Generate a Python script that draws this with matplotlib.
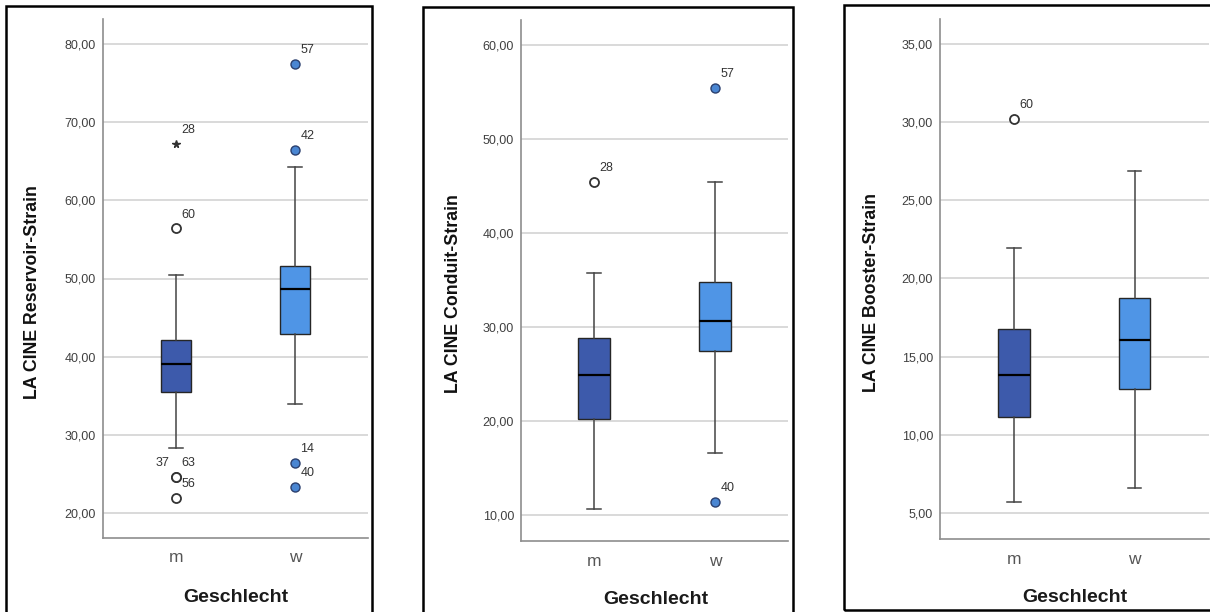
import matplotlib
matplotlib.use("Agg")
import matplotlib.pyplot as plt
from matplotlib.patches import Rectangle

# ---------------- data ----------------
categories = ["m", "w"]
x_title = "Geschlecht"

res_title = "LA CINE Reservoir-Strain"
res_ticks = [20, 30, 40, 50, 60, 70, 80]
res_whislo = [28.3, 33.9]
res_q1 = [35.5, 42.9]
res_med = [39.0, 48.7]
res_q3 = [42.1, 51.6]
res_whishi = [50.4, 64.3]
res_out_m = [56.4, 24.6, 24.6, 21.9]
res_out_m_ids = ["60", "37", "63", "56"]
res_ext_m = [67.2]
res_ext_m_ids = ["28"]
res_out_w = [77.4, 66.5, 26.4, 23.3]
res_out_w_ids = ["57", "42", "14", "40"]

con_title = "LA CINE Conduit-Strain"
con_ticks = [10, 20, 30, 40, 50, 60]
con_whislo = [10.6, 16.6]
con_q1 = [20.25, 27.45]
con_med = [24.9, 30.6]
con_q3 = [28.8, 34.8]
con_whishi = [35.8, 45.4]
con_out_m = [45.5]
con_out_m_ids = ["28"]
con_out_w = [55.5, 11.35]
con_out_w_ids = ["57", "40"]

boo_title = "LA CINE Booster-Strain"
boo_ticks = [5, 10, 15, 20, 25, 30, 35]
boo_whislo = [5.7, 6.6]
boo_q1 = [11.15, 12.9]
boo_med = [13.8, 16.05]
boo_q3 = [16.75, 18.75]
boo_whishi = [21.95, 26.9]
boo_out_m = [30.2]
boo_out_m_ids = ["60"]
boo_out_w = []
boo_out_w_ids = []

# ---------------- style ----------------
W, H = 1210, 612
C_M = "#3d5aab"
C_W = "#4f95e6"
C_WOUT = "#4a86d2"
EDGE = "#262626"
GRID = "#d3d3d3"
SPINE = "#8e8e8e"
TICKC = "#404040"

fig = plt.figure(figsize=(W / 100, H / 100), dpi=100)

def fx(px):
    return px / W

def fy(py):
    return 1 - py / H

def panel(frame, axbox, xlim, ylim, ticks, title, ylab_xy, xlab_xy,
          whislo, q1, med, q3, whishi, out_m, out_m_ids, out_w, out_w_ids,
          ext_m=(), ext_m_ids=()):
    fl, ft, fr, fb = frame
    fig.add_artist(Rectangle((fx(fl), fy(fb)), fx(fr) - fx(fl), fy(ft) - fy(fb),
                             transform=fig.transFigure, fill=False,
                             edgecolor="black", linewidth=1.8, zorder=0))
    l, t, r, b = axbox
    ax = fig.add_axes([fx(l), fy(b), fx(r) - fx(l), fy(t) - fy(b)])
    stats = []
    for i, c in enumerate(categories):
        stats.append(dict(label=c, whislo=whislo[i], q1=q1[i], med=med[i],
                          q3=q3[i], whishi=whishi[i], fliers=[]))
    bp = ax.bxp(stats, positions=[1, 2], widths=0.26, patch_artist=True,
                showfliers=False, capwidths=0.11,
                boxprops=dict(edgecolor=EDGE, linewidth=1.0),
                medianprops=dict(color="black", linewidth=1.6),
                whiskerprops=dict(color="#444444", linewidth=1.1),
                capprops=dict(color="#444444", linewidth=1.1))
    for patch, col in zip(bp["boxes"], [C_M, C_W]):
        patch.set_facecolor(col)
    for z in bp["boxes"] + bp["medians"] + bp["whiskers"] + bp["caps"]:
        z.set_zorder(3)

    def lab(xpos, val, txt, left=False):
        ax.annotate(txt, (xpos, val), xytext=(-9.5 if left else 9, 10),
                    textcoords="offset points", ha="center", va="center",
                    fontsize=9, color="#333333", family="Liberation Sans",
                    zorder=5)

    seen = set()
    for v, t_ in zip(out_m, out_m_ids):
        ax.plot([1], [v], marker="o", ms=6.5, mfc="white", mec="#333333",
                mew=1.3, ls="none", zorder=4)
        lab(1, v, t_, left=(v not in seen) and out_m.count(v) > 1)
        seen.add(v)
    for v, t_ in zip(ext_m, ext_m_ids):
        ax.plot([1], [v], marker="*", ms=5.5, color="#333333", ls="none", zorder=4)
        lab(1, v, t_)
    for v, t_ in zip(out_w, out_w_ids):
        ax.plot([2], [v], marker="o", ms=6.5, mfc=C_WOUT, mec="#2a3f6e",
                mew=1.0, ls="none", zorder=4)
        lab(2, v, t_)

    ax.set_xlim(*xlim)
    ax.set_ylim(*ylim)
    ax.set_yticks(ticks)
    ax.set_yticklabels([f"{v:.2f}".replace(".", ",") for v in ticks])
    ax.set_xticks([1, 2])
    ax.set_xticklabels(categories)
    ax.yaxis.grid(True, color=GRID, linewidth=1.2)
    ax.set_axisbelow(True)
    for s in ["top", "right"]:
        ax.spines[s].set_visible(False)
    for s in ["left", "bottom"]:
        ax.spines[s].set_color(SPINE)
        ax.spines[s].set_linewidth(1.2)
    ax.tick_params(axis="y", length=0, pad=5, labelsize=9, labelcolor=TICKC)
    ax.tick_params(axis="x", length=0, pad=9, labelsize=12.5, labelcolor="#555555")
    for tl in ax.get_yticklabels() + ax.get_xticklabels():
        tl.set_family("Liberation Sans")
    fig.text(fx(ylab_xy[0]), fy(ylab_xy[1]), title, rotation=90,
             ha="center", va="center", fontsize=12.8, fontweight="bold",
             family="Liberation Sans", color="#111111")
    fig.text(fx(xlab_xy[0]), fy(xlab_xy[1]), x_title, ha="center", va="center",
             fontsize=14, fontweight="bold", family="Liberation Sans",
             color="#1a1a1a")
    return ax

panel((6, 6, 372, 625), (103, 19, 368, 538), (0.387, 2.613), (16.8, 83.2),
      res_ticks, res_title, (33, 292), (236, 598),
      res_whislo, res_q1, res_med, res_q3, res_whishi,
      res_out_m, res_out_m_ids, res_out_w, res_out_w_ids,
      res_ext_m, res_ext_m_ids)

panel((423, 7, 793, 625), (521, 20, 788, 541), (0.397, 2.603), (7.23, 62.7),
      con_ticks, con_title, (453, 294), (656, 600),
      con_whislo, con_q1, con_med, con_q3, con_whishi,
      con_out_m, con_out_m_ids, con_out_w, con_out_w_ids)

panel((844, 5, 1220, 610), (940, 19, 1209, 539), (0.387, 2.616), (3.33, 36.6),
      boo_ticks, boo_title, (872, 292), (1075, 597),
      boo_whislo, boo_q1, boo_med, boo_q3, boo_whishi,
      boo_out_m, boo_out_m_ids, boo_out_w, boo_out_w_ids)

fig.savefig("out.png", dpi=100, facecolor="white")
